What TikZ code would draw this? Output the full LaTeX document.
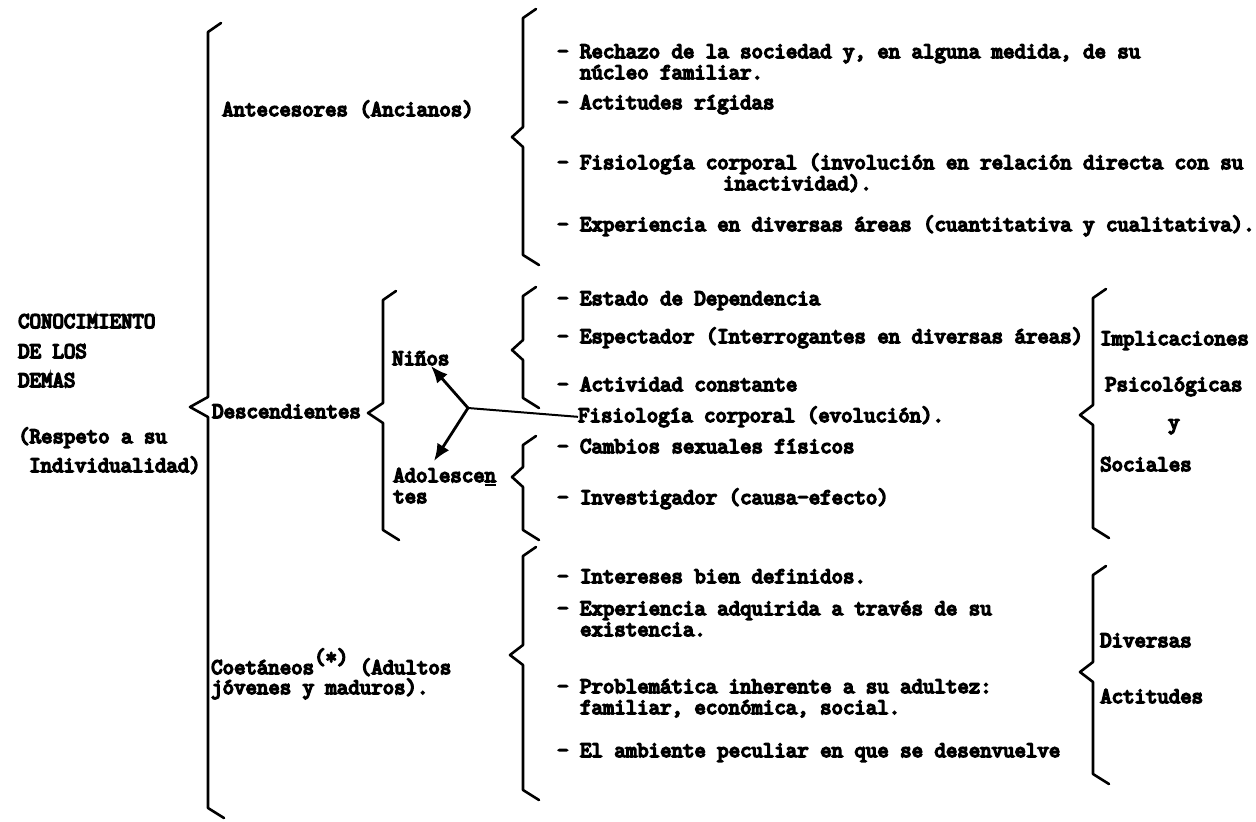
\documentclass[tikz,border=0pt]{standalone}
\usepackage{fontspec}
\newfontfamily\maquina{Latin Modern Mono}[FakeBold=7]
\usepackage{tikz}
\usetikzlibrary{arrows.meta, positioning}

\begin{document}
\begin{tikzpicture}[
  x=1pt, y=-1pt,
  txt/.style={anchor=base west, inner sep=0pt, align=left, font=\maquina\fontsize{22.2}{21}\selectfont},
  brc/.style={line width=2.6pt, line join=round, line cap=round},
  arr/.style={-{Latex[length=17pt,width=14pt]}, line width=2.8pt},
]
  \useasboundingbox (0,0) rectangle (1256,822);

  % llaves: x, arriba, punta, abajo, x de la punta
  \foreach \bx/\bt/\bm/\bb/\tx in {208/32/407/808/190, 383/300/413/530/368,
      523/18/137/255/512, 523/296/350/398/512, 523/445/477/530/512,
      523/556/655/790/510, 1093/298/415/528/1080, 1093/575/672/774/1080}
    \draw[brc] (\bx+13,\bt-9) -- (\bx,\bt) -- (\bx,\bm-10) -- (\tx,\bm)
      -- (\bx,\bm+10) -- (\bx,\bb) -- (\bx+16,\bb+10);

  % columna izquierda
  \node[txt] (con) at (18,328) {CONOCIMIENTO};
  \node[txt] (delos) at (18,358) {DE LOS};
  \node[txt] (demas) at (18,387) {DEMAS};
  \node[txt] (resp) at (18,443) {(Respeto a su};
  \node[txt] (indiv) at (29,472) {Individualidad)};

  \node[txt] (ant) at (222,116) {Antecesores (Ancianos)};
  \node[txt] (desc) at (212,418) {Descendientes};
  \node[txt] (coe) at (211,694) {Coetáneos\raisebox{10pt}{(*)} (Adultos\\[-1pt]jóvenes y maduros).};
  \node[txt] (ninos) at (392,365) {Niños};
  \node[txt] (adol) at (393,503) {Adolesce\rlap{\rule[-4pt]{11.6pt}{1.8pt}}n\\tes};

  % antecesores
  \node[txt] (a1) at (557,79) {- Rechazo de la sociedad y, en alguna medida, de su\\\phantom{- }núcleo familiar.};
  \node[txt] (a2) at (557,109) {- Actitudes rígidas};
  \node[txt] (a3) at (557,190) {- Fisiología corporal (involución en relación directa con su\\\hspace*{166pt}inactividad).};
  \node[txt] (a4) at (557,231) {- Experiencia en diversas áreas (cuantitativa y cualitativa).};

  % descendientes
  \node[txt] (n1) at (557,305) {- Estado de Dependencia};
  \node[txt] (n2) at (557,343) {- Espectador (Interrogantes en diversas áreas)};
  \node[txt] (n3) at (557,391) {- Actividad constante};
  \node[txt] (fisev) at (578,422) {Fisiología corporal (evolución).};
  \node[txt] (d1) at (557,453) {- Cambios sexuales físicos};
  \node[txt] (d2) at (557,504) {- Investigador (causa-efecto)};

  % coetaneos
  \node[txt] (c1) at (557,583) {- Intereses bien definidos.};
  \node[txt] (c2) at (557,636) {- Experiencia adquirida a través de su\\\phantom{- }existencia.};
  \node[txt] (c3) at (557,714) {- Problemática inherente a su adultez:\\\phantom{- }familiar, económica, social.};
  \node[txt] (c4) at (557,757) {- El ambiente peculiar en que se desenvuelve};

  % implicaciones y actitudes
  \node[txt] (imp) at (1100,345) {Implicaciones};
  \node[txt] (psi) at (1105,391) {Psicológicas};
  \node[txt] (yy) at (1168,429) {y};
  \node[txt] (soc) at (1100,471) {Sociales};
  \node[txt] (dive) at (1100,647) {Diversas};
  \node[txt] (acti) at (1100,703) {Actitudes};

  % flechas
  \coordinate (j) at (468,408);
  \coordinate (nt) at (431,366);
  \coordinate (at) at (434,461);
  \draw[arr] (j) -- (nt);
  \draw[arr] (j) -- (at);
  \draw[line width=2pt] (j) -- (fisev.west);
\end{tikzpicture}
\end{document}
